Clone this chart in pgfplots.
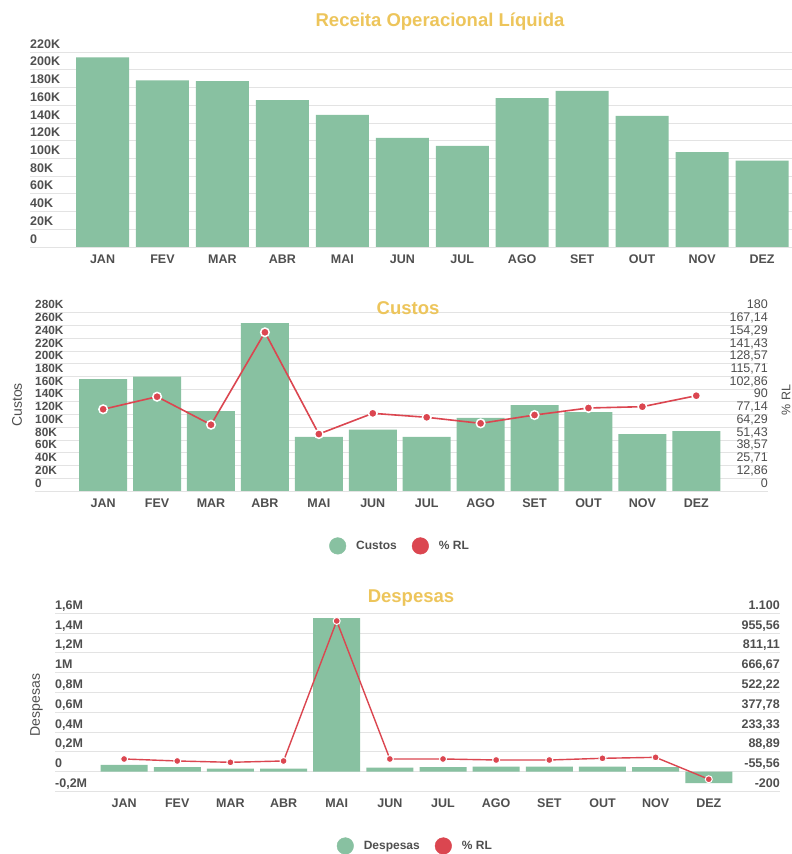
\documentclass[border=0pt]{standalone}
\usepackage{pgfplots}
\pgfplotsset{compat=1.18}
\usepackage{fontspec}
\setmainfont{Liberation Sans}
\definecolor{barc}{HTML}{88C1A1}
\definecolor{redc}{HTML}{DB4650}
\definecolor{goldc}{HTML}{EDC55B}
\definecolor{labc}{HTML}{4F4F4F}
\definecolor{gridc}{HTML}{E3E3E3}
\newcommand{\fs}[1]{\fontsize{#1}{#1}\selectfont}
\pgfplotsset{
  base/.style={
    scale only axis, anchor=south west,
    axis line style={draw=none}, tick style={draw=none},
    scaled y ticks=false,
    ymajorgrids, grid style={draw=gridc, line width=0.8pt},
    xtick={0,1,2,3,4,5,6,7,8,9,10,11},
    xticklabels={JAN,FEV,MAR,ABR,MAI,JUN,JUL,AGO,SET,OUT,NOV,DEZ},
    xticklabel style={font=\bfseries\fs{12.5}, text=labc, yshift=-4pt},
    yticklabel style={anchor=south west, inner xsep=0pt, inner ysep=3.7pt, text depth=0pt, text=labc},
  },
  raxis/.style={
    scale only axis, anchor=south west,
    axis line style={draw=none}, tick style={draw=none},
    xtick=\empty, yticklabel pos=right, scaled y ticks=false,
    yticklabel style={anchor=south east, inner xsep=0pt, inner ysep=3.7pt, text depth=0pt, text=labc},
  },
  leg/.style={draw=none, fill=none, anchor=center,
    legend columns=2, font=\bfseries\fs{12}, text=labc,
    /tikz/every odd column/.append style={column sep=8pt},
    /tikz/every even column/.append style={column sep=13pt}},
}
\begin{document}
\begin{tikzpicture}
\path[use as bounding box, fill=white] (0pt,0pt) rectangle (792pt,854pt);

% ---------------- Receita Operacional Liquida ----------------
\begin{axis}[base, at={(30pt,607pt)}, width=762pt, height=195pt,
  xmin=-1.21, xmax=11.5, ymin=0, ymax=220000,
  ytick={0,20000,40000,60000,80000,100000,120000,140000,160000,180000,200000,220000},
  yticklabels={0,20K,40K,60K,80K,100K,120K,140K,160K,180K,200K,220K},
  yticklabel style={font=\bfseries\fs{12.5}}]
\addplot[ybar, bar width=53pt, fill=barc, draw=none] coordinates {
 (0,214000) (1,188000) (2,187000) (3,165600) (4,149000) (5,123000)
 (6,114000) (7,168000) (8,176000) (9,148000) (10,107000) (11,97400)};
\end{axis}

% ---------------- Custos ----------------
\begin{axis}[base, at={(35pt,363pt)}, width=733pt, height=178.3pt,
  xmin=-1.264, xmax=12.33, ymin=0, ymax=280000,
  ytick={0,20000,40000,60000,80000,100000,120000,140000,160000,180000,200000,220000,240000,260000,280000},
  yticklabels={0,20K,40K,60K,80K,100K,120K,140K,160K,180K,200K,220K,240K,260K,280K},
  yticklabel style={font=\bfseries\fs{11.8}},
  legend style={leg, at={(axis description cs:0.498,-0.308)}}]
\addplot[ybar, bar width=48pt, fill=barc, draw=none, forget plot] coordinates {
 (0,175800) (1,179500) (2,125600) (3,263700) (4,84800) (5,96300)
 (6,84800) (7,115000) (8,135000) (9,124000) (10,89500) (11,94200)};
\addlegendimage{legend image code/.code={\fill[barc] (0pt,0pt) circle (8.3pt);}}
\addlegendentry{Custos}
\addlegendimage{legend image code/.code={\fill[redc] (0pt,0pt) circle (8.3pt);}}
\addlegendentry{\% RL}
\end{axis}
\begin{axis}[raxis, at={(35pt,363pt)}, width=733pt, height=178.3pt,
  xmin=-1.264, xmax=12.33, ymin=0, ymax=180,
  ytick={0,12.857143,25.714286,38.571429,51.428571,64.285714,77.142857,90,102.857143,115.714286,128.571429,141.428571,154.285714,167.142857,180},
  yticklabels={0,{12,86},{25,71},{38,57},{51,43},{64,29},{77,14},90,{102,86},{115,71},{128,57},{141,43},{154,29},{167,14},180},
  yticklabel style={font=\fs{12.5}}]
\addplot[redc, line width=1.6pt, mark=*, mark size=4.3pt,
  mark options={fill=redc, draw=white, line width=1.5pt}] coordinates {
 (0,82.5) (1,95.2) (2,66.9) (3,160.2) (4,57.5) (5,78.4)
 (6,74.4) (7,68.3) (8,76.7) (9,83.8) (10,85.1) (11,96.2)};
\end{axis}

% ---------------- Despesas ----------------
\begin{axis}[base, at={(55pt,62.7pt)}, width=725pt, height=178pt,
  xmin=-1.30, xmax=12.34, ymin=-200000, ymax=1600000,
  ytick={-200000,0,200000,400000,600000,800000,1000000,1200000,1400000,1600000},
  yticklabels={{-0,2M},0,{0,2M},{0,4M},{0,6M},{0,8M},1M,{1,2M},{1,4M},{1,6M}},
  yticklabel style={font=\bfseries\fs{12.5}},
  legend style={leg, at={(axis description cs:0.497,-0.307)}}]
\addplot[ybar, bar width=47pt, fill=barc, draw=none, forget plot] coordinates {
 (0,68000) (1,44000) (2,30000) (3,30000) (4,1551000) (5,40000)
 (6,44000) (7,50000) (8,50000) (9,50000) (10,45000) (11,-118000)};
\addlegendimage{legend image code/.code={\fill[barc] (0pt,0pt) circle (8.3pt);}}
\addlegendentry{Despesas}
\addlegendimage{legend image code/.code={\fill[redc] (0pt,0pt) circle (8.3pt);}}
\addlegendentry{\% RL}
\end{axis}
\begin{axis}[raxis, at={(55pt,62.7pt)}, width=725pt, height=178pt,
  xmin=-1.30, xmax=12.34, ymin=-200, ymax=1100,
  ytick={-200,-55.5556,88.8889,233.3333,377.7778,522.2222,666.6667,811.1111,955.5556,1100},
  yticklabels={-200,{-55,56},{88,89},{233,33},{377,78},{522,22},{666,67},{811,11},{955,56},1.100},
  yticklabel style={font=\bfseries\fs{12.5}}]
\addplot[redc, line width=1.4pt, mark=*, mark size=3.5pt,
  mark options={fill=redc, draw=white, line width=1pt}] coordinates {
 (0,36) (1,21.4) (2,11.8) (3,21.4) (4,1044) (5,36)
 (6,36) (7,28.6) (8,28.6) (9,41) (10,48) (11,-112)};
\end{axis}

% titles and axis names
\node[font=\bfseries\fs{18.5}, text=goldc] at (440pt,832pt) {Receita Operacional Líquida};
\node[font=\bfseries\fs{18.5}, text=goldc] at (408pt,546pt) {Custos};
\node[font=\bfseries\fs{18.5}, text=goldc] at (411pt,256pt) {Despesas};
\node[font=\fs{14}, text=labc, rotate=90] at (17pt,449pt) {Custos};
\node[font=\fs{12.5}, text=labc, rotate=90] at (786pt,454pt) {\% RL};
\node[font=\fs{14}, text=labc, rotate=90] at (36.5pt,149pt) {Despesas};
\end{tikzpicture}
\end{document}
